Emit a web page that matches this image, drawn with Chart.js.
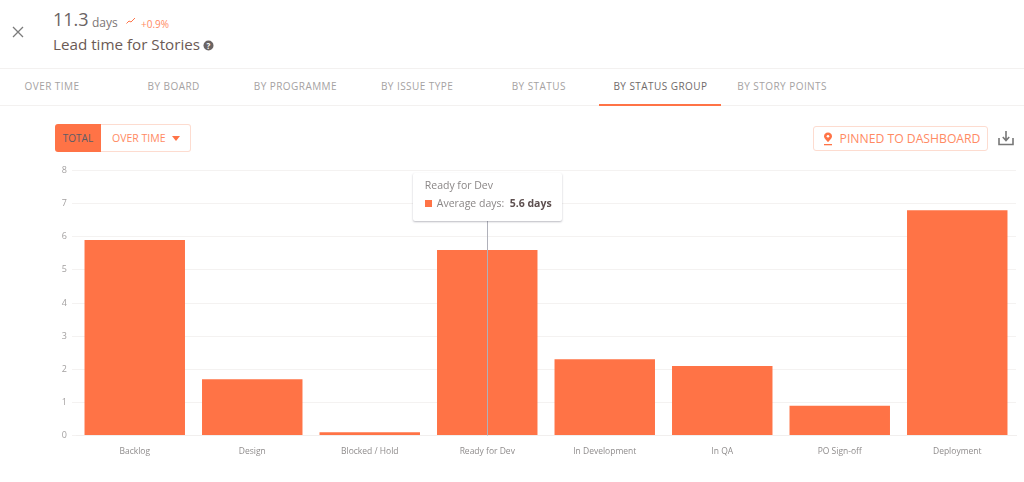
<!DOCTYPE html>
<html>
<head>
<meta charset="utf-8">
<title>Lead time for Stories</title>
<script src="https://cdn.jsdelivr.net/npm/chart.js@4"></script>
<style>
  html, body { margin: 0; padding: 0; background: #fff; }
  body { width: 1024px; height: 482px; position: relative; overflow: hidden; font-family: "Open Sans", sans-serif; color: #6b6464; }
  .abs { position: absolute; white-space: nowrap; }
  .rule { position: absolute; left: 0; width: 1024px; height: 1px; background: #f3f1f0; }
  .tab { position: absolute; top: 79px; width: 122px; text-align: center; font-size: 10px; letter-spacing: 0.45px; color: #a5a2a2; }
  .tab.active { color: #6f6a6a; }
  #chartBox { position: absolute; left: 0; top: 160px; width: 1024px; height: 310px; }
  #tip { position: absolute; background: #fff; border-radius: 2px; box-shadow: 0 1px 2px rgba(60,60,80,0.35); box-sizing: border-box; width: 149px; height: 48px; z-index: 2; }
  #tipTitle { position: absolute; left: 12px; top: 5px; font-size: 10.5px; color: #8a8686; white-space: nowrap; }
  #tipBody { position: absolute; left: 12px; top: 23px; font-size: 10.5px; color: #8a8686; white-space: nowrap; }
  #tipBody b { color: #5d4f4f; font-weight: 700; }
  #tipBody i { display: inline-block; width: 7px; height: 7px; background: #ff7346; margin-right: 5px; }
  .btn { position: absolute; box-sizing: border-box; border: 1px solid #fddcd0; border-radius: 3px; color: #ff8a63; text-align: center; }
</style>
</head>
<body>
<svg class="abs" style="left:12px;top:26px" width="12" height="12" viewBox="0 0 12 12"><path d="M1 1L11 11M11 1L1 11" stroke="#7b7b7b" stroke-width="1.3" fill="none"/></svg>
<div class="abs" style="left:53px;top:7px;font-size:18px;color:#6b6464">11.3</div>
<div class="abs" style="left:92px;top:14px;font-size:12px;color:#7c7676">days</div>
<svg class="abs" style="left:126px;top:17px" width="10" height="8" viewBox="0 0 10 8"><path d="M0.5 6.5L3 4L5 5L9 1" stroke="#ff7346" stroke-width="1" fill="none"/></svg>
<div class="abs" style="left:141px;top:17px;font-size:10px;color:#ff8a63">+0.9%</div>
<div class="abs" style="left:53px;top:34px;font-size:15.2px;color:#6b5a55">Lead time for Stories</div>
<svg class="abs" style="left:203px;top:40px" width="11" height="11" viewBox="0 0 11 11"><circle cx="5.5" cy="5.5" r="5" fill="#6a6363"/><text x="5.5" y="8.5" font-size="8" font-weight="700" text-anchor="middle" fill="#fff" font-family="Open Sans">?</text></svg>

<div class="rule" style="top:68px"></div>
<div class="rule" style="top:105px"></div>
<div class="abs" style="left:599px;top:104px;width:122px;height:1.5px;background:#ff7346"></div>
<div id="tabs"></div>

<div class="abs" style="left:55px;top:124px;width:46px;height:28px;background:#ff7346;border-radius:3px 0 0 3px;text-align:center;font-size:10px;line-height:28px;color:#5c5c66">TOTAL</div>
<div class="btn" style="left:101px;top:124px;width:90px;height:28px;border-left:none;border-radius:0 3px 3px 0;font-size:10.5px;line-height:26px;text-align:left;padding-left:11px">OVER TIME<svg style="position:absolute;left:71px;top:11px" width="8" height="5" viewBox="0 0 8 5"><path d="M0 0H8L4 5Z" fill="#ff7346"/></svg></div>
<div class="btn" style="left:813px;top:126px;width:175px;height:25px;font-size:12.2px;line-height:23px;padding-left:19px">PINNED TO DASHBOARD<svg style="position:absolute;left:9px;top:5px" width="10" height="14" viewBox="0 0 10 14"><path d="M5 0.5C2.5 0.5 1 2.3 1 4.2C1 6.5 5 10 5 10C5 10 9 6.5 9 4.2C9 2.3 7.5 0.5 5 0.5Z" fill="#ff7346"/><circle cx="5" cy="4.2" r="1.3" fill="#fff"/><rect x="1" y="12" width="8" height="1.3" fill="#ff7346"/></svg></div>
<svg class="abs" style="left:998px;top:130px" width="16" height="16" viewBox="0 0 16 16"><path d="M1 8V14.5H15V8M8 1V10M4.8 7L8 10.5L11.2 7" stroke="#777" stroke-width="1.6" fill="none"/></svg>

<div id="tip"><div id="tipTitle"></div><div id="tipBody"></div></div>
<div id="chartBox"><canvas id="leadChart"></canvas></div>

<script>
const tabLabels = ['OVER TIME', 'BY BOARD', 'BY PROGRAMME', 'BY ISSUE TYPE', 'BY STATUS', 'BY STATUS GROUP', 'BY STORY POINTS'];
const categories = ['Backlog', 'Design', 'Blocked / Hold', 'Ready for Dev', 'In Development', 'In QA', 'PO Sign-off', 'Deployment'];
const averageDays = [5.9, 1.7, 0.1, 5.6, 2.3, 2.1, 0.9, 6.8];
const yTicks = [0, 1, 2, 3, 4, 5, 6, 7, 8];
const hoveredIndex = 3;

// Tabs row
const tabsEl = document.getElementById('tabs');
tabLabels.forEach(function (label, i) {
    const d = document.createElement('div');
    d.className = 'tab' + (label === 'BY STATUS GROUP' ? ' active' : '');
    d.style.left = (-9 + i * 121.7) + 'px';
    d.textContent = label;
    tabsEl.appendChild(d);
});

// Crosshair from the tooltip down through the hovered bar
const crosshair = {
    id: 'crosshair',
    afterDatasetsDraw: function (chart) {
        const x = Math.round(chart.scales.x.getPixelForValue(hoveredIndex)) + 0.5;
        const ctx = chart.ctx;
        ctx.save();
        ctx.lineWidth = 1;
        ctx.strokeStyle = '#b0b1ba';
        ctx.beginPath();
        ctx.moveTo(x, 61);
        ctx.lineTo(x, chart.scales.y.getPixelForValue(0));
        ctx.stroke();
        ctx.restore();
    }
};

const chart = new Chart(document.getElementById('leadChart').getContext('2d'), {
    type: 'bar',
    data: {
        labels: categories,
        datasets: [{
            label: 'Average days',
            data: averageDays,
            backgroundColor: '#ff7346',
            borderWidth: 0,
            categoryPercentage: 1,
            barPercentage: 0.855
        }]
    },
    options: {
        responsive: true,
        maintainAspectRatio: false,
        animation: false,
        layout: { padding: { top: 10.5, right: 8, left: 0, bottom: 0 } },
        plugins: { legend: { display: false }, tooltip: { enabled: false } },
        scales: {
            x: {
                grid: { display: false },
                border: { color: '#f1efee' },
                afterFit: function (axis) { axis.height = 34.5; },
                ticks: { color: '#8f8c8c', font: { family: 'Open Sans', size: 8.5 }, padding: 3, maxRotation: 0, autoSkip: false }
            },
            y: {
                min: 0,
                max: 8,
                afterFit: function (axis) { axis.width = 76; },
                afterBuildTicks: function (axis) { axis.ticks = yTicks.map(function (v) { return { value: v }; }); },
                grid: { color: '#f4f2f1', tickLength: 4 },
                border: { display: false },
                ticks: { color: '#a3a0a0', font: { family: 'Open Sans', size: 9 }, padding: 5 }
            }
        }
    },
    plugins: [crosshair]
});

// Tooltip for the hovered bar
document.getElementById('tipTitle').textContent = categories[hoveredIndex];
document.getElementById('tipBody').innerHTML = '<i></i>Average days:&nbsp; <b>' + averageDays[hoveredIndex] + ' days</b>';
const tip = document.getElementById('tip');
tip.style.left = (chart.scales.x.getPixelForValue(hoveredIndex) - 74.5) + 'px';
tip.style.top = '173px';
</script>
</body>
</html>
